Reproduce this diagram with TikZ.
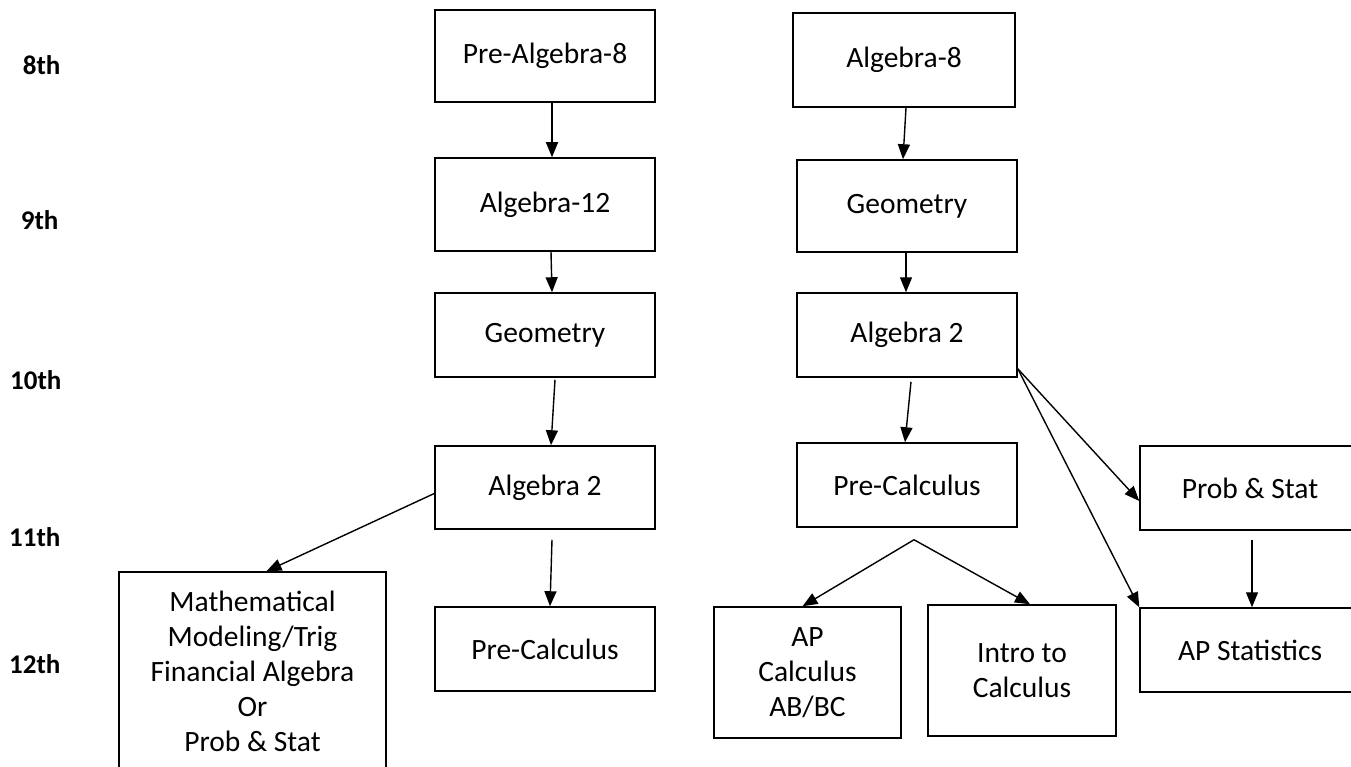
\documentclass[tikz,border=0pt]{standalone}
\usepackage{fontspec}
\setmainfont{Carlito}
\usetikzlibrary{arrows.meta, positioning}
\tikzset{
  course/.style={draw, line width=1.5pt, minimum width=220pt, minimum height=84pt,
    inner sep=0pt, align=center, font=\fontsize{29.5}{35}\selectfont},
  grade/.style={anchor=east, font=\fontsize{27}{30}\selectfont\bfseries},
  flow/.style={-{Triangle[length=15pt,width=12pt]}, line width=1.4pt},
}

\begin{document}
\begin{tikzpicture}[x=1pt, y=-1pt]
  \useasboundingbox (0,0) rectangle (1351,767);
  \clip (0,0) rectangle (1351,767);

  % grade levels
  \node[grade] (g8) at (64,65) {8th};
  \node[grade] (g9) at (62,220) {9th};
  \node[grade] (g10) at (65,380) {10th};
  \node[grade] (g11) at (64,537) {11th};
  \node[grade] (g12) at (64,664) {12th};

  % left track
  \node[course, minimum height=92pt] (prealg) at (545,56) {Pre-Algebra-8};
  \node[course, minimum height=93pt] (algtwelve) at (545,204.5) {Algebra-12};
  \node[course] (geomL) at (545,335) {Geometry};
  \node[course, minimum height=83pt] (algtwoL) at (545,487.5) {Algebra 2};
  \node[course] (precalcL) at (545,649) {Pre-Calculus};
  \node[course, minimum width=267pt, minimum height=198pt] (mathmod) at (252.5,671)
    {Mathematical\\Modeling/Trig\\Financial Algebra\\Or\\Prob \& Stat};

  % right track
  \node[course, minimum width=222pt, minimum height=94pt] (alg8) at (904,60) {Algebra-8};
  \node[course, minimum height=92pt] (geomR) at (907,206) {Geometry};
  \node[course] (algtwoR) at (907,335) {Algebra 2};
  \node[course] (precalcR) at (907,485) {Pre-Calculus};
  \node[course, minimum width=187pt, minimum height=131pt] (apcalc) at (807.5,672.5)
    {AP\\Calculus\\AB/BC};
  \node[course, minimum width=188pt, minimum height=131pt] (intro) at (1022,670.5)
    {Intro to\\Calculus};
  \node[course] (probstat) at (1250,488) {Prob \& Stat};
  \node[course] (apstat) at (1250,650) {AP Statistics};

  \coordinate (fork) at ([yshift=9pt]algtwoR.south east);
  \coordinate (split) at ([xshift=7pt,yshift=-12pt]precalcR.south);

  % arrows
  \draw[flow] ([xshift=7pt]prealg.south) -- ([xshift=7pt]algtwelve.north);
  \draw[flow] ([xshift=6pt]algtwelve.south) -- ([xshift=7pt]geomL.north);
  \draw[flow] ([xshift=10pt,yshift=-2pt]geomL.south) -- ([xshift=6pt]algtwoL.north);
  \draw[flow] ([xshift=7pt,yshift=-10pt]algtwoL.south) -- ([xshift=5pt]precalcL.north);
  \draw[flow] ([yshift=-6pt]algtwoL.west) -- ([xshift=14pt]mathmod.north);

  \draw[flow] ([xshift=2pt]alg8.south) -- ([xshift=-4pt]geomR.north);
  \draw[flow] ([xshift=-1pt]geomR.south) -- ([xshift=-1pt]algtwoR.north);
  \draw[flow] ([xshift=4pt,yshift=-4pt]algtwoR.south) -- ([xshift=-2pt]precalcR.north);
  \draw[flow] (fork) -- ([yshift=-13pt]probstat.west);
  \draw[flow] (fork) -- (apstat.north west);
  \draw[flow] (split) -- ([xshift=-5pt]apcalc.north);
  \draw[flow] (split) -- ([xshift=8pt]intro.north);
  \draw[flow] ([xshift=2pt,yshift=-9pt]probstat.south) -- ([xshift=2pt]apstat.north);
\end{tikzpicture}
\end{document}
